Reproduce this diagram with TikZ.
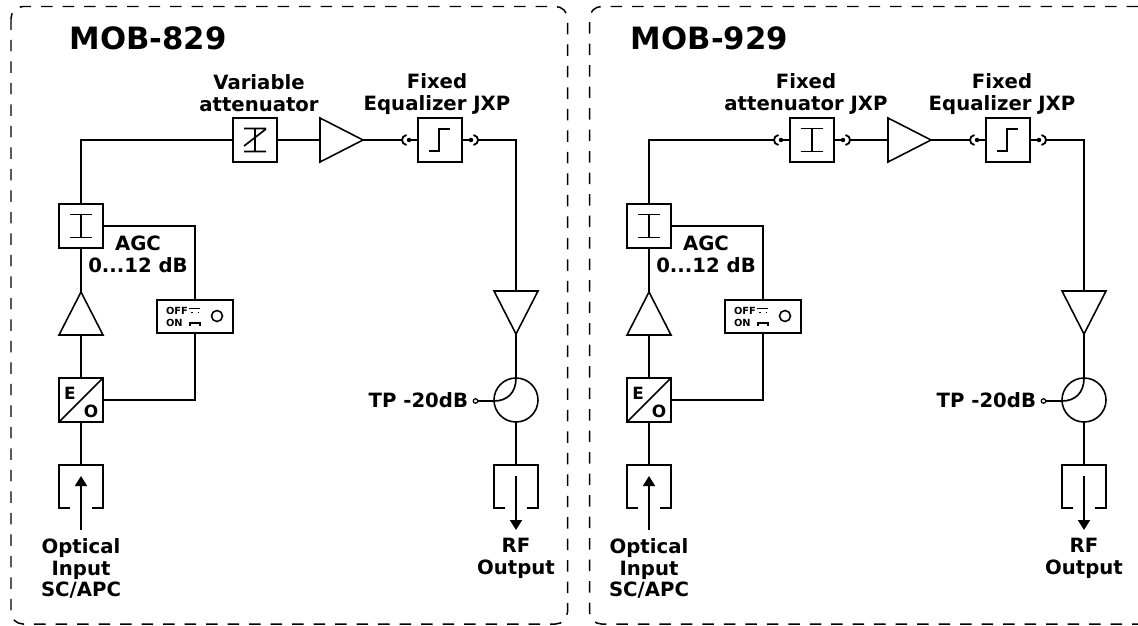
\documentclass[tikz,border=0pt]{standalone}
\usepackage{fontspec}
\setmainfont{DejaVu Sans}
\usetikzlibrary{arrows.meta,shapes.geometric}
\tikzset{
    every node/.style={align=center,outer sep=0,},
    wire/.style={line width=1.05pt,},
    thin wire/.style={line width=0.95pt,},
    panel/.style={line width=0.85pt,dash pattern=on 0.23cm off 0.2cm,rounded corners=0.24cm,},
    block/.style={draw,rectangle,line width=1pt,inner sep=0,minimum size=0.88cm,},
    amp/.style={draw,isosceles triangle,isosceles triangle stretches,anchor=apex,line width=0.9pt,inner sep=0,minimum width=0.88cm,minimum height=0.86cm,},
    port/.style={draw,circle,line width=0.7pt,inner sep=0,minimum size=0.09cm,},
    coupler/.style={draw,circle,line width=0.9pt,inner sep=0,minimum size=0.88cm,},
    knob/.style={draw,circle,line width=0.9pt,inner sep=0,minimum size=0.22cm,},
    caption/.style={font=\bfseries\fontsize{11.2}{12.4}\selectfont,inner sep=0,},
    bigcaption/.style={font=\bfseries\fontsize{17.5}{20}\selectfont,inner sep=0,},
    tinycaption/.style={font=\bfseries\fontsize{5.6}{6}\selectfont,inner sep=0,anchor=west,},
    eoletter/.style={font=\bfseries\fontsize{9.6}{11}\selectfont,inner sep=0,},
    switchbox/.style={draw,rectangle,line width=1pt,inner sep=0,minimum width=1.52cm,minimum height=0.66cm,},
    attsym/.style={path picture={
        \draw[thin wire] (path picture bounding box.center) ++(-11,-11.5) -- ++(22,0)
            (path picture bounding box.center) ++(-11,11.5) -- ++(22,0)
            (path picture bounding box.center) ++(0,-11.5) -- ++(0,23);
    }},
    varsym/.style={path picture={
        \draw[thin wire] (path picture bounding box.center) ++(-11,-11.5) -- ++(22,0)
            (path picture bounding box.center) ++(-11,11.5) -- ++(22,0)
            (path picture bounding box.center) ++(0,-11.5) -- ++(0,23)
            (path picture bounding box.center) ++(-11,6) -- ++(22,-17);
    }},
    stepsym/.style={path picture={
        \draw[thin wire] (path picture bounding box.center) ++(-11,11) -- ++(10,0) -- ++(0,-22) -- ++(11,0);
    }},
    eosym/.style={path picture={
        \draw[thin wire] (path picture bounding box.south west) -- (path picture bounding box.north east);
    }},
    pics/jackin/.style={code={
        \draw[wire] (4.5,-5) .. controls (-1.5,-4) and (-1.5,4) .. (4.5,5);
        \fill (7,0) circle (0.045cm);
    }},
    pics/jackout/.style={code={
        \fill (-7,0) circle (0.045cm);
        \draw[wire] (-4.5,-5) .. controls (1.5,-4) and (1.5,4) .. (-4.5,5);
    }},
}
\newcommand{\feedchain}{%
        \node[block,attsym] (agc_att) at (81,226) {};
        \node[amp,shape border rotate=90] (pre_amp) at (81,292) {};
        \node[block,eosym] (eo) at (81,400) {};
        \node[eoletter] (eo_e) at (70,393) {E};
        \node[eoletter] (eo_o) at (91,411) {O};
        \node[switchbox] (agc_sw) at (195,316.5) {};
        \node[tinycaption] (sw_off) at (166,311) {OFF};
        \node[tinycaption] (sw_on) at (166,323) {ON};
        \node[knob] (sw_knob) at (217,316) {};
        \draw[line width=0.6pt] (189,308.5) -- (200,308.5) (191,312.5) -- (192.5,312.5) (197.5,312.5) -- (199,312.5);
        \draw[line width=0.6pt] (190,326) -- (190,323) -- (200,323) -- (200,326);
        \coordinate (in_top) at (81,465);
        \coordinate (in_end) at (81,530);
        \coordinate (in_tip) at (81,476);
        \draw[wire] (70,508) -- (59,508) -- (59,465) -- (103,465) -- (103,508) -- (92,508);
        \draw[wire] (eo) -- (in_top);
        \draw[-{Triangle[length=0.2cm,width=0.24cm]},wire] (in_end) -- (in_tip);
        \draw[wire] (eo.north) -- (pre_amp.lower side);
        \node[caption] (optical) at (81,568.5) {Optical\\Input\\SC/APC};
        \node[caption] (agc_text) at (138,254.5) {AGC\\0...12 dB};
        \draw[wire] (agc_att.east) -| (agc_sw.north);
        \draw[wire] (eo.east) -| (agc_sw.south);
        \draw[wire] (agc_att.south) -- (pre_amp.apex);
        % right hand column
        \node[amp,shape border rotate=-90] (post_amp) at (516,334) {};
        \node[coupler] (tp_coupler) at (516,400) {};
        \node[port] (tp_port) at (475.5,401) {};
        \node[caption,anchor=east] (tp_text) at (468,400) {TP -20dB};
        \coordinate (out_top) at (516,465);
        \coordinate (out_start) at (516,476);
        \coordinate (out_tip) at (516,530);
        \draw[wire] (505,508) -- (494,508) -- (494,465) -- (538,465) -- (538,508) -- (527,508);
        \draw[wire] (post_amp.apex) -- (tp_coupler.north);
        \draw[wire] (tp_coupler) -- (out_top);
        \draw[thin wire] (tp_port) -- (494,401) .. controls (507,401) and (516,393) .. (tp_coupler.north);
        \draw[-{Triangle[length=0.2cm,width=0.24cm]},wire] (out_start) -- (out_tip);
        \node[caption] (rf_out) at (516,558.5) {RF\\Output};
        % amplifier and equalizer on the top line
        \node[amp] (main_amp) at (363,140) {};
        \node[block,stepsym] (equalizer) at (440,140) {};
        \pic at (402,140) {jackin};
        \pic at (478,140) {jackout};
        \coordinate (eq_in) at (402,140);
        \coordinate (eq_out) at (478,140);
        \coordinate (eq_dot_in) at (409,140);
        \coordinate (eq_dot_out) at (471,140);
        \draw[wire] (main_amp.apex) -- (eq_in);
        \draw[wire] (eq_dot_in) -- (equalizer.west);
        \draw[wire] (equalizer.east) -- (eq_dot_out);
        \draw[wire] (eq_out) -| (post_amp.lower side);
}

\begin{document}
\begin{tikzpicture}[x=0.02cm,y=-0.02cm]
        \useasboundingbox (0,0) rectangle (1138,625);

        \draw[panel] (11,6.5) rectangle (567.5,624);
        \draw[panel] (1138,6.5) -- (589.5,6.5) -- (589.5,624) -- (1138,624);

        % MOB-829
        \begin{scope}[name prefix=a_]
            \node[bigcaption] (title) at (148,38) {MOB-829};
            \node[block,varsym] (var_att) at (255,140) {};
            \node[caption] (var_text) at (259,93.5) {Variable\\attenuator};
            \node[caption] (eq_text) at (437,94) {Fixed\\Equalizer JXP};
            \feedchain
            \draw[wire] (agc_att.north) |- (var_att.west);
            \draw[wire] (var_att.east) -- (main_amp.lower side);
        \end{scope}

        % MOB-929
        \begin{scope}[shift={(568,0)},name prefix=b_]
            \node[bigcaption] (title) at (141.5,38) {MOB-929};
            \node[block,attsym] (fix_att) at (244,140) {};
            \node[caption] (fix_text) at (238,94) {Fixed\\attenuator JXP};
            \node[caption] (eq_text) at (434,94) {Fixed\\Equalizer JXP};
            \feedchain
            \pic at (206,140) {jackin};
            \pic at (282,140) {jackout};
            \coordinate (fix_in) at (206,140);
            \coordinate (fix_out) at (282,140);
            \coordinate (fix_dot_in) at (213,140);
            \coordinate (fix_dot_out) at (275,140);
            \draw[wire] (agc_att.north) |- (fix_in);
            \draw[wire] (fix_dot_in) -- (fix_att.west);
            \draw[wire] (fix_att.east) -- (fix_dot_out);
            \draw[wire] (fix_out) -- (main_amp.lower side);
        \end{scope}
\end{tikzpicture}
\end{document}
